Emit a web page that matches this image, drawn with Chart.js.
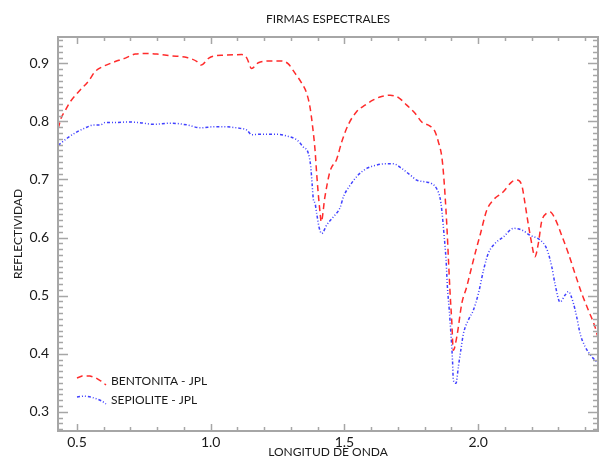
<!DOCTYPE html>
<html>
<head>
<meta charset="utf-8">
<script src="https://cdn.jsdelivr.net/npm/chart.js@4"></script>
<style>
  html, body { margin: 0; padding: 0; background: #fff; }
  #wrap { width: 602px; height: 459px; }
</style>
</head>
<body>
<div id="wrap"><canvas id="chart"></canvas></div>
<script>
// Firmas espectrales, valores
var bentonitaWl = [0.430, 0.440, 0.455, 0.475, 0.512, 0.544, 0.568, 0.600, 0.643, 0.681, 0.718, 0.762, 0.799, 0.849, 0.911, 0.949, 0.964, 0.993, 1.017, 1.047, 1.116, 1.135, 1.153, 1.178, 1.222, 1.265, 1.290, 1.315, 1.340, 1.359, 1.371, 1.381, 1.390, 1.396, 1.402, 1.409, 1.413, 1.427, 1.446, 1.471, 1.490, 1.515, 1.546, 1.577, 1.608, 1.639, 1.671, 1.702, 1.733, 1.764, 1.789, 1.820, 1.839, 1.851, 1.864, 1.870, 1.876, 1.883, 1.889, 1.895, 1.901, 1.907, 1.920, 1.939, 1.957, 1.976, 1.995, 2.007, 2.032, 2.057, 2.094, 2.126, 2.144, 2.163, 2.175, 2.187, 2.200, 2.212, 2.225, 2.237, 2.256, 2.269, 2.287, 2.312, 2.337, 2.362, 2.387, 2.412, 2.437, 2.450];
var bentonitaRefl = [0.788, 0.805, 0.818, 0.834, 0.854, 0.870, 0.886, 0.895, 0.903, 0.909, 0.916, 0.917, 0.916, 0.913, 0.910, 0.903, 0.897, 0.909, 0.913, 0.914, 0.915, 0.909, 0.891, 0.901, 0.904, 0.904, 0.899, 0.883, 0.866, 0.848, 0.825, 0.791, 0.751, 0.711, 0.676, 0.642, 0.627, 0.670, 0.714, 0.735, 0.765, 0.795, 0.817, 0.828, 0.837, 0.843, 0.845, 0.841, 0.828, 0.814, 0.799, 0.792, 0.782, 0.765, 0.739, 0.712, 0.674, 0.619, 0.561, 0.504, 0.458, 0.406, 0.429, 0.487, 0.515, 0.550, 0.584, 0.604, 0.647, 0.665, 0.679, 0.696, 0.699, 0.690, 0.659, 0.624, 0.590, 0.567, 0.590, 0.627, 0.642, 0.644, 0.633, 0.604, 0.573, 0.538, 0.504, 0.475, 0.446, 0.424];

var sepioliteWl = [0.430, 0.463, 0.500, 0.537, 0.562, 0.587, 0.606, 0.650, 0.687, 0.731, 0.787, 0.849, 0.911, 0.961, 1.017, 1.035, 1.110, 1.135, 1.153, 1.191, 1.247, 1.284, 1.322, 1.346, 1.365, 1.374, 1.379, 1.384, 1.390, 1.396, 1.406, 1.415, 1.434, 1.459, 1.484, 1.496, 1.521, 1.552, 1.583, 1.621, 1.652, 1.683, 1.714, 1.745, 1.770, 1.801, 1.826, 1.845, 1.858, 1.864, 1.872, 1.880, 1.885, 1.892, 1.898, 1.904, 1.907, 1.917, 1.926, 1.935, 1.945, 1.963, 1.982, 2.001, 2.020, 2.038, 2.063, 2.094, 2.132, 2.163, 2.194, 2.231, 2.256, 2.275, 2.287, 2.306, 2.325, 2.337, 2.356, 2.368, 2.381, 2.400, 2.425, 2.450];
var sepioliteRefl = [0.759, 0.771, 0.782, 0.790, 0.794, 0.794, 0.798, 0.798, 0.799, 0.798, 0.795, 0.797, 0.794, 0.789, 0.791, 0.791, 0.788, 0.785, 0.777, 0.778, 0.778, 0.775, 0.768, 0.756, 0.745, 0.722, 0.693, 0.665, 0.659, 0.642, 0.616, 0.607, 0.622, 0.636, 0.652, 0.670, 0.690, 0.708, 0.719, 0.725, 0.727, 0.727, 0.719, 0.708, 0.699, 0.696, 0.693, 0.684, 0.667, 0.647, 0.607, 0.561, 0.515, 0.475, 0.435, 0.389, 0.355, 0.349, 0.378, 0.406, 0.435, 0.458, 0.475, 0.504, 0.544, 0.573, 0.590, 0.601, 0.616, 0.613, 0.604, 0.596, 0.581, 0.550, 0.521, 0.489, 0.501, 0.507, 0.487, 0.464, 0.435, 0.412, 0.395, 0.383];

var seriesNames = ["BENTONITA - JPL", "SEPIOLITE - JPL"];
var xMajorTicks = [0.5, 1.0, 1.5, 2.0];
var yMajorTicks = [0.3, 0.4, 0.5, 0.6, 0.7, 0.8, 0.9];

var FONT = "Lato, 'Open Sans', sans-serif";

function toPoints(xs, ys) {
  var pts = [];
  for (var i = 0; i < xs.length; i++) pts.push({x: xs[i], y: ys[i]});
  return pts;
}

// marco gris con marcas hacia dentro
var framePlugin = {
  id: "frame",
  afterDatasetsDraw: function(chart) {
    var ctx = chart.ctx, a = chart.chartArea;
    var xs = chart.scales.x, ys = chart.scales.y;
    ctx.save();
    ctx.strokeStyle = "#a6a6a6";
    ctx.lineWidth = 1.5;
    ctx.beginPath();
    var v, px, len;
    for (v = 5; v <= 24; v++) {
      px = Math.round(xs.getPixelForValue(v / 10)) + 0.5;
      len = (v % 5 === 0) ? 7 : 4;
      ctx.moveTo(px, a.bottom); ctx.lineTo(px, a.bottom - len);
      ctx.moveTo(px, a.top); ctx.lineTo(px, a.top + len);
    }
    for (v = 27; v <= 94; v++) {
      px = Math.round(ys.getPixelForValue(v / 100)) + 0.5;
      len = (v % 10 === 0) ? 10 : 5;
      ctx.moveTo(a.left, px); ctx.lineTo(a.left + len, px);
      ctx.moveTo(a.right, px); ctx.lineTo(a.right - len, px);
    }
    ctx.stroke();
    ctx.lineWidth = 2;
    ctx.strokeRect(a.left, a.top, a.right - a.left, a.bottom - a.top);

    // leyenda
    var ds = chart.data.datasets;
    var rows = [
      {y: 381, path: [[77, 378], [82, 376], [90, 376], [96, 378], [101, 381], [106, 385]]},
      {y: 400, path: [[77, 397], [84, 396], [91, 397], [97, 399], [102, 401], [106, 404]]}
    ];
    ctx.font = "12px " + FONT;
    ctx.textBaseline = "middle";
    ctx.textAlign = "left";
    for (var i = 0; i < rows.length; i++) {
      ctx.strokeStyle = ds[i].borderColor;
      ctx.lineWidth = ds[i].borderWidth;
      ctx.setLineDash(ds[i].borderDash);
      ctx.beginPath();
      var p = rows[i].path;
      ctx.moveTo(p[0][0], p[0][1]);
      for (var k = 1; k < p.length; k++) ctx.lineTo(p[k][0], p[k][1]);
      ctx.stroke();
      ctx.setLineDash([]);
      ctx.fillStyle = "#1a1a1a";
      ctx.fillText(ds[i].label, 111, rows[i].y);
    }
    ctx.restore();
  }
};

var config = {
  type: "line",
  data: {
    datasets: [
      {
        label: seriesNames[0],
        data: toPoints(bentonitaWl, bentonitaRefl),
        borderColor: "rgba(255, 20, 20, 0.9)",
        borderWidth: 1.5,
        borderDash: [6, 4],
        pointRadius: 0,
        cubicInterpolationMode: "monotone",
        fill: false
      },
      {
        label: seriesNames[1],
        data: toPoints(sepioliteWl, sepioliteRefl),
        borderColor: "rgba(30, 30, 255, 0.85)",
        borderWidth: 1.5,
        borderDash: [3, 2, 1, 2, 1, 2],
        pointRadius: 0,
        cubicInterpolationMode: "monotone",
        fill: false
      }
    ]
  },
  options: {
    responsive: true,
    maintainAspectRatio: false,
    animation: false,
    layout: { padding: { left: 0, right: 4, top: 0, bottom: 0 } },
    plugins: {
      legend: { display: false },
      tooltip: { enabled: false },
      title: {
        display: true,
        text: "FIRMAS ESPECTRALES",
        fullSize: false,
        color: "#1a1a1a",
        font: { family: FONT, size: 12, weight: "normal" },
        padding: { top: 12, bottom: 10.6 }
      }
    },
    scales: {
      x: {
        type: "linear",
        min: 0.429,
        max: 2.448,
        grid: { display: false, drawTicks: false },
        border: { display: false },
        afterBuildTicks: function(s) {
          s.ticks = xMajorTicks.map(function(v) { return {value: v}; });
        },
        afterFit: function(s) { s.height = 28; },
        ticks: {
          color: "#1a1a1a",
          font: { family: FONT, size: 14 },
          padding: 3,
          maxRotation: 0,
          callback: function(v) { return Number(v).toFixed(1); }
        },
        title: {
          display: true,
          text: "LONGITUD DE ONDA",
          color: "#1a1a1a",
          font: { family: FONT, size: 12 },
          padding: { top: 0, bottom: 0 }
        }
      },
      y: {
        type: "linear",
        min: 0.267,
        max: 0.9453,
        grid: { display: false, drawTicks: false },
        border: { display: false },
        afterBuildTicks: function(s) {
          s.ticks = yMajorTicks.map(function(v) { return {value: v}; });
        },
        afterFit: function(s) { s.width = 58; },
        ticks: {
          color: "#1a1a1a",
          font: { family: FONT, size: 14 },
          padding: 9,
          callback: function(v) { return Number(v).toFixed(1); }
        },
        title: {
          display: true,
          text: "REFLECTIVIDAD",
          color: "#1a1a1a",
          font: { family: FONT, size: 12 },
          padding: { top: 11, bottom: 0 }
        }
      }
    }
  },
  plugins: [framePlugin]
};

new Chart(document.getElementById("chart"), config);
</script>
</body>
</html>
